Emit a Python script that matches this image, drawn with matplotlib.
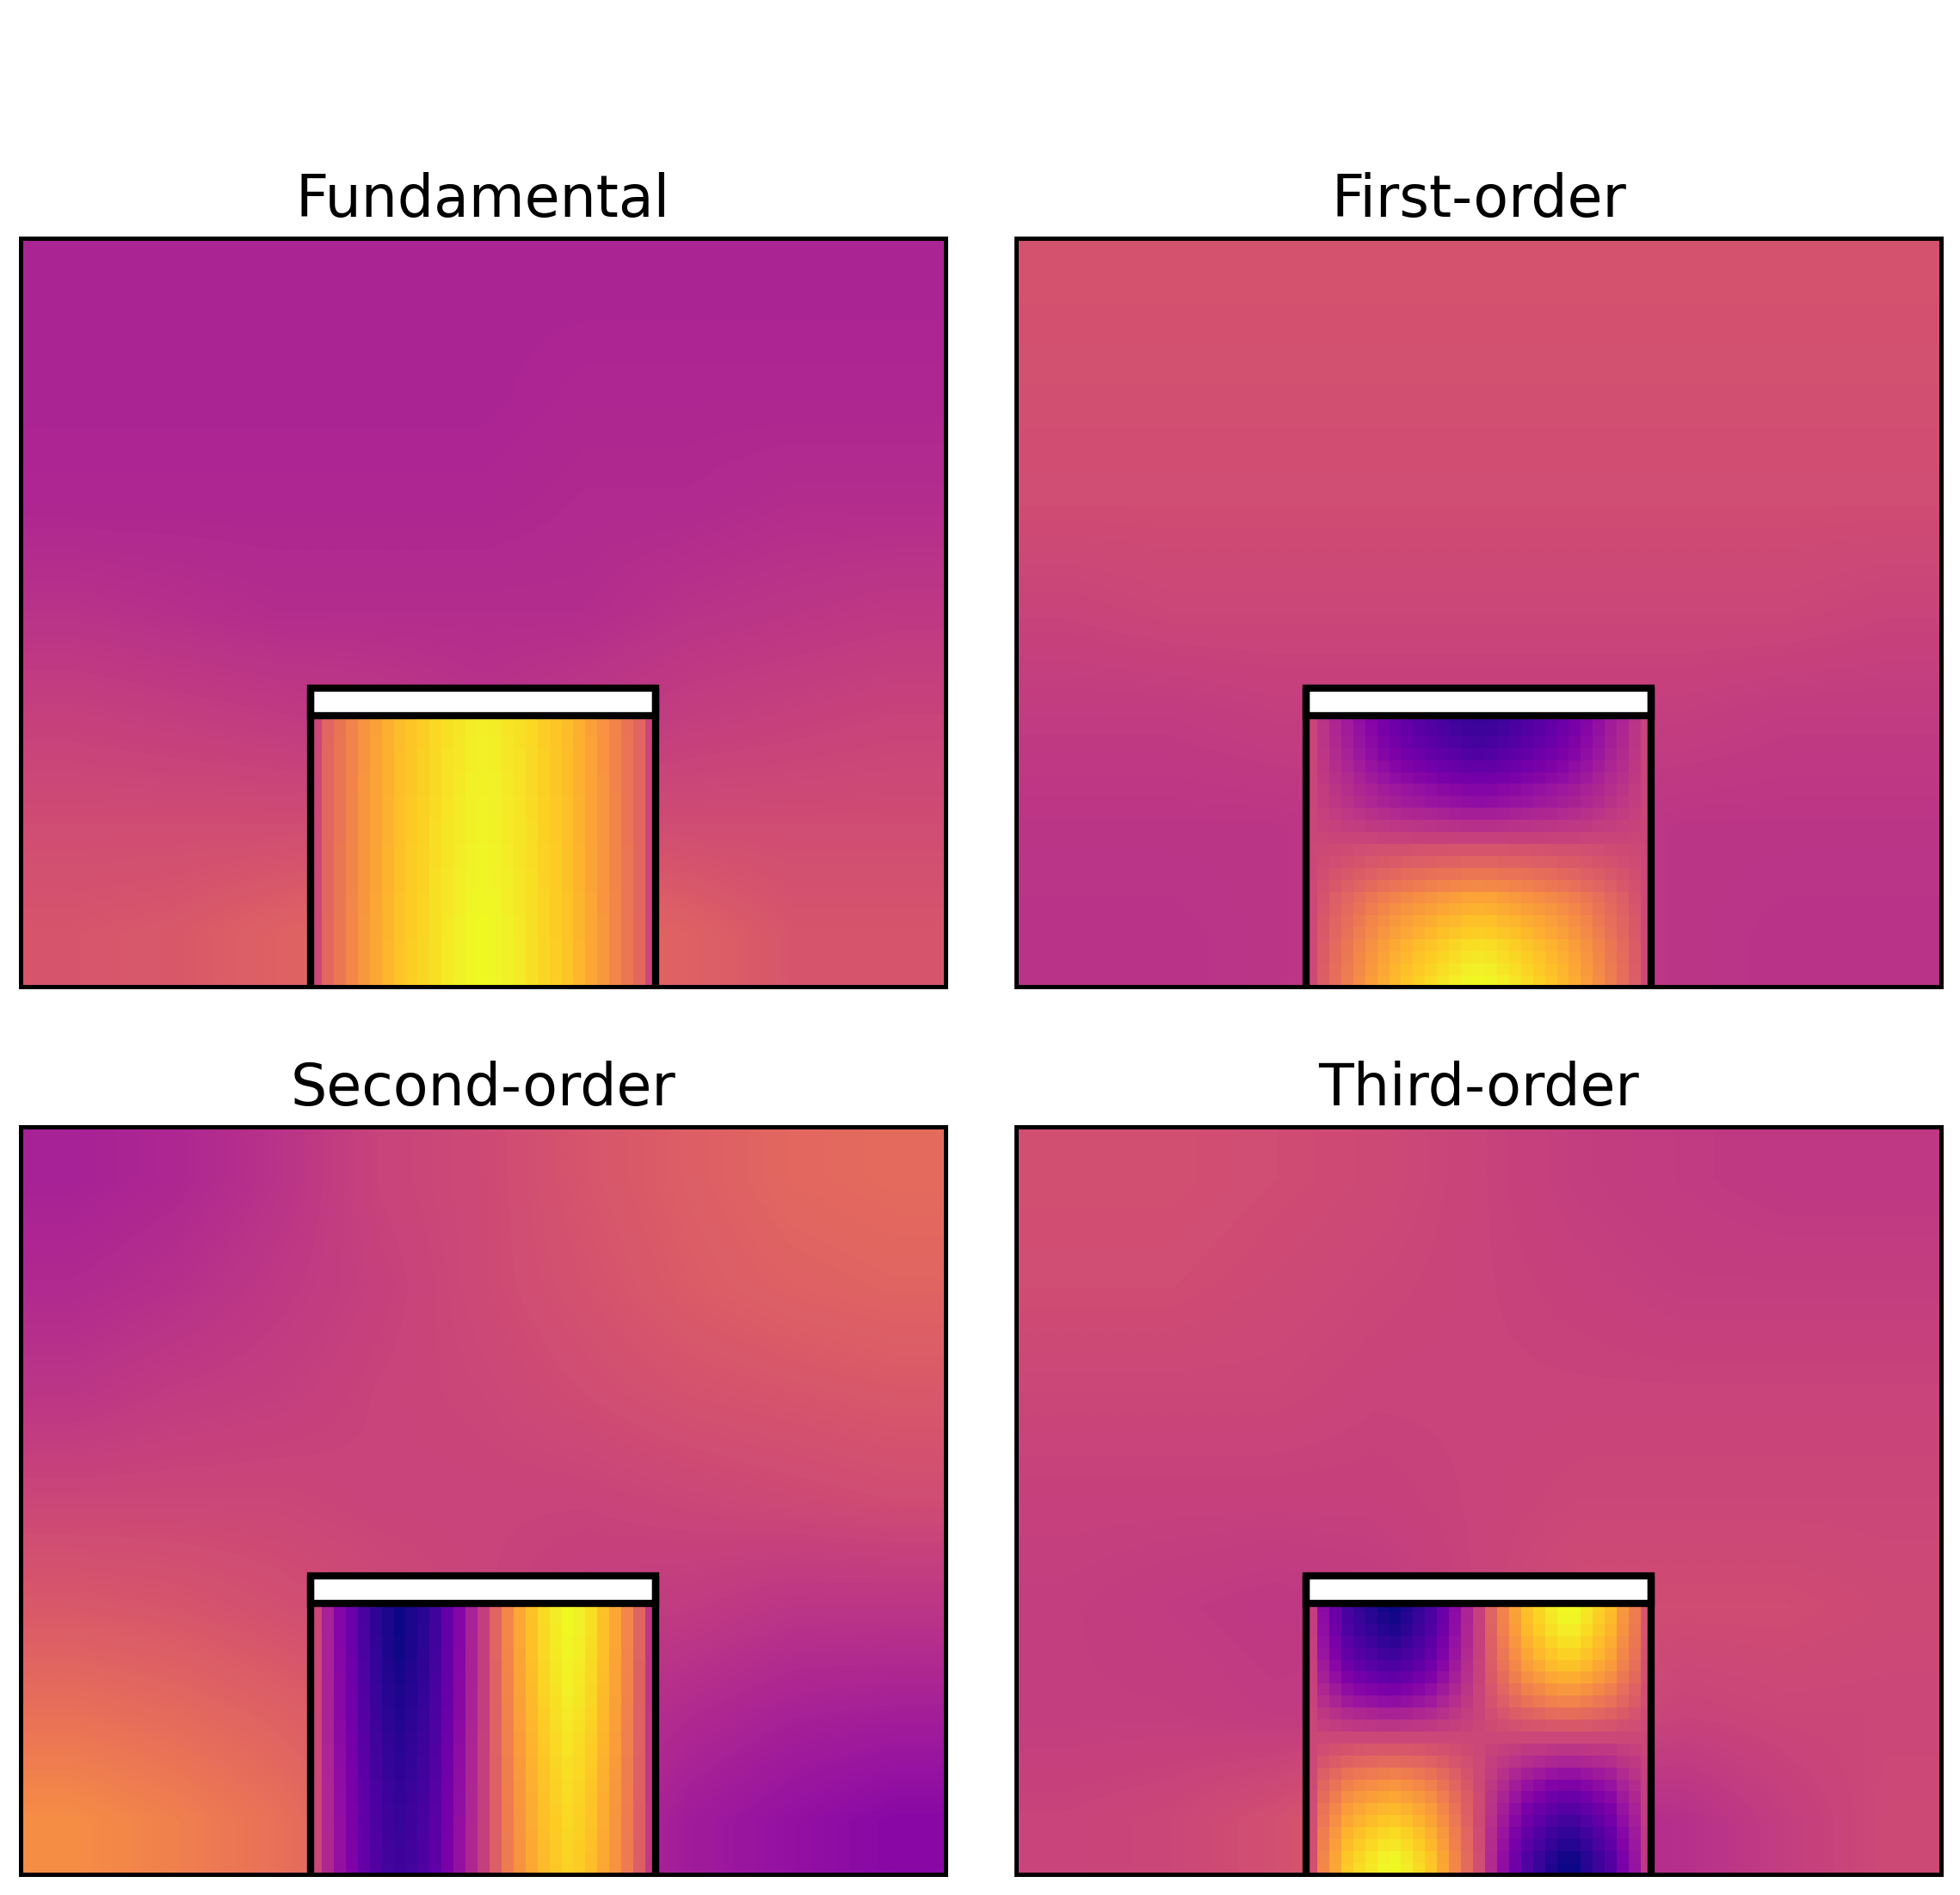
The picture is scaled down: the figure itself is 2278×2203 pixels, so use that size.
#!/usr/bin/env python3

import numpy as np
import matplotlib
matplotlib.use('Agg')
from matplotlib import pyplot as plt
from matplotlib.patches import Rectangle

titles = ['Fundamental', 'First-order', 'Second-order', 'Third-order']

# Field around the pillar, colour scale 0..1, rows top to bottom
outer_fund = [
    [.38, .38, .38, .38, .38, .38, .38, .38, .38],
    [.38, .38, .38, .38, .38, .39, .39, .39, .39],
    [.39, .39, .39, .39, .39, .40, .40, .41, .41],
    [.43, .42, .41, .41, .41, .41, .43, .44, .45],
    [.48, .47, .46, .45, .43, .45, .47, .48, .49],
    [.52, .52, .52, .52, .50, .52, .52, .52, .52],
    [.55, .56, .59, .62, .62, .62, .59, .55, .55],
]
outer_first = [
    [.54, .54, .54, .54, .54, .54, .54, .54, .54],
    [.53, .53, .53, .53, .53, .53, .53, .53, .53],
    [.52, .52, .52, .52, .52, .52, .52, .52, .52],
    [.49, .50, .50, .50, .50, .50, .50, .50, .49],
    [.46, .46, .47, .47, .47, .47, .47, .46, .46],
    [.44, .44, .44, .45, .45, .45, .44, .44, .44],
    [.43, .43, .44, .45, .45, .45, .44, .43, .43],
]
outer_second = [
    [.37, .39, .43, .49, .51, .55, .58, .61, .62],
    [.40, .42, .45, .48, .51, .54, .57, .59, .60],
    [.44, .46, .47, .49, .50, .52, .54, .55, .56],
    [.50, .50, .50, .49, .49, .49, .50, .51, .52],
    [.56, .55, .53, .51, .49, .47, .46, .44, .44],
    [.64, .62, .59, .55, .49, .44, .40, .37, .36],
    [.73, .69, .64, .57, .50, .42, .35, .31, .28],
]
outer_third = [
    [.53, .53, .52, .51, .49, .47, .46, .45, .45],
    [.52, .52, .51, .50, .49, .48, .47, .47, .47],
    [.50, .50, .50, .49, .49, .49, .49, .49, .49],
    [.48, .48, .48, .48, .49, .50, .50, .50, .50],
    [.47, .46, .45, .46, .49, .52, .52, .52, .51],
    [.47, .47, .46, .46, .49, .52, .49, .50, .50],
    [.49, .50, .53, .58, .50, .40, .42, .47, .51],
]

# Inside the pillar: one column profile and one row weight per mode
cols_fund = [.50, .61, .66, .71, .76, .80, .84, .875, .90, .92, .945, .965, .98, .995, 1.0,
             .995, .98, .965, .945, .92, .90, .875, .84, .80, .76, .71, .66, .61, .50]
rows_fund = [.95, .95, .955, .96, .96, .965, .965, .97, .97, .975, .975, .98,
             .98, .985, .985, .99, .99, .995, .995, 1.0, 1.0, 1.0, 1.0]

cols_first = [.51, .58, .635, .68, .73, .775, .815, .85, .88, .905, .93, .955, .975, .995, 1.0,
              .995, .975, .955, .93, .905, .88, .85, .815, .775, .73, .68, .635, .58, .51]
rows_first = [-.84, -.82, -.78, -.72, -.64, -.56, -.46, -.40, -.28, -.16, -.04, .10,
              .20, .32, .44, .58, .66, .74, .80, .88, .92, .96, 1.0]

cols_second = [.50, .37, .27, .20, .12, .06, .02, .0, .02, .05, .10, .18, .27, .37, .47,
               .60, .71, .80, .87, .93, .97, 1.0, .98, .94, .87, .80, .71, .60, .45]
rows_second = [1.0, 1.0, .995, .99, .985, .975, .965, .955, .945, .935, .925, .91,
               .90, .89, .88, .87, .86, .85, .845, .84, .83, .825, .82]

cols_third = [.47, .29, .20, .11, .07, .04, .01, .0, .03, .07, .12, .20, .29, .38, .48,
              .60, .70, .79, .87, .92, .97, 1.0, 1.0, .96, .91, .86, .76, .68, .55]
rows_third = [1.0, .98, .94, .88, .82, .74, .64, .52, .40, .26, .12, .0,
              -.12, -.24, -.38, -.50, -.60, -.70, -.78, -.86, -.92, -.98, -1.0]

outers = [outer_fund, outer_first, outer_second, outer_third]
cols = [cols_fund, cols_first, cols_second, cols_third]
rows = [rows_fund, rows_first, rows_second, rows_third]

W, H = 2278, 2203
# axes boxes in image pixels: left, top, right, bottom
boxes = [(24, 277, 1098.7, 1147), (1181.3, 277, 2255.7, 1147),
         (24, 1309.5, 1098.7, 2179), (1181.3, 1309.5, 2255.7, 2179)]

# data units are simulation cells
XMAX, YMAX = 77.3, 62.6
MID = XMAX / 2

fig = plt.figure(figsize=(W / 300, H / 300), dpi=300)

for i in range(4):
    l, t, r, b = boxes[i]
    ax = fig.add_axes([l / W, 1 - b / H, (r - l) / W, (b - t) / H])

    ax.imshow(np.array(outers[i]), cmap='plasma', vmin=0, vmax=1, aspect='auto',
              interpolation='bilinear', extent=(0, XMAX, 0, YMAX))

    col = np.array(cols[i])
    row = np.array(rows[i])
    inside = 0.5 + np.outer(row, col - 0.5)
    ax.imshow(inside, cmap='plasma', vmin=0, vmax=1, aspect='auto',
              interpolation='nearest',
              extent=(MID - 14.5, MID + 14.5, -0.06, 22.94))

    # pillar walls and the white cap on top
    left_wall, right_wall = MID - 14.4, MID + 14.4
    ax.plot([left_wall, left_wall], [0, 25], color='k', lw=2, solid_capstyle='butt')
    ax.plot([right_wall, right_wall], [0, 25], color='k', lw=2, solid_capstyle='butt')
    ax.add_patch(Rectangle((left_wall, 22.7), right_wall - left_wall, 25 - 22.7,
                           facecolor='white', edgecolor='k', lw=2))

    ax.set_xlim(0, XMAX)
    ax.set_ylim(0, YMAX)
    ax.set_xticks([])
    ax.set_yticks([])
    for s in ax.spines.values():
        s.set_linewidth(1.2)
    ax.set_title(titles[i], fontsize=16)

fig.savefig('out.png', dpi=300)
